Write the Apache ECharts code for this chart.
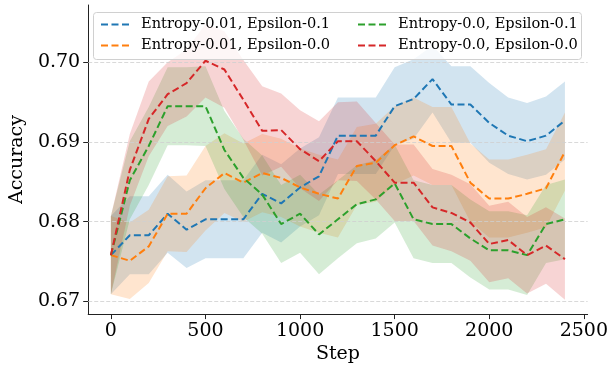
<!DOCTYPE html>
<html>
<head>
<meta charset="utf-8">
<script src="https://cdn.jsdelivr.net/npm/echarts@6/dist/echarts.min.js"></script>
<style>
  html, body { margin: 0; padding: 0; background: #fff; }
  #main { width: 611px; height: 369px; }
</style>
</head>
<body>
<div id="main"></div>
<script>
// steps on the x axis
var steps = [0, 100, 200, 300, 400, 500, 600, 700, 800, 900, 1000, 1100, 1200,
  1300, 1400, 1500, 1600, 1700, 1800, 1900, 2000, 2100, 2200, 2300, 2400];

var names = ['Entropy-0.01, Epsilon-0.1', 'Entropy-0.01, Epsilon-0.0',
  'Entropy-0.0, Epsilon-0.1', 'Entropy-0.0, Epsilon-0.0'];
var colors = ['#1f77b4', '#ff7f0e', '#2ca02c', '#d62728'];

// mean accuracy per run
var blueMean = [0.6758, 0.6783, 0.6783, 0.6810, 0.6790, 0.6803, 0.6803, 0.6803, 0.6835, 0.6823, 0.6843, 0.6857, 0.6908,
  0.6908, 0.6908, 0.6945, 0.6954, 0.6979, 0.6947, 0.6947, 0.6924, 0.6908, 0.6901, 0.6908, 0.6927];
var orangeMean = [0.6758, 0.6751, 0.6769, 0.6810, 0.6810, 0.6842, 0.6861, 0.6849, 0.6861, 0.6855, 0.6843, 0.6835, 0.6829,
  0.6870, 0.6874, 0.6896, 0.6907, 0.6895, 0.6895, 0.6849, 0.6829, 0.6829, 0.6835, 0.6842, 0.6888];
var greenMean = [0.6758, 0.6852, 0.6895, 0.6945, 0.6945, 0.6945, 0.6890, 0.6855, 0.6834, 0.6797, 0.6810, 0.6784, 0.6803,
  0.6822, 0.6828, 0.6848, 0.6803, 0.6797, 0.6797, 0.6779, 0.6764, 0.6764, 0.6758, 0.6797, 0.6803];
var redMean = [0.6758, 0.6865, 0.6929, 0.6960, 0.6974, 0.7002, 0.6991, 0.6953, 0.6914, 0.6915, 0.6891, 0.6876, 0.6901,
  0.6901, 0.6876, 0.6849, 0.6849, 0.6818, 0.6811, 0.6799, 0.6772, 0.6777, 0.6758, 0.6770, 0.6753];

// std (half width of the shaded band)
var blueStd = [0.0049, 0.0049, 0.0049, 0.0049, 0.0048, 0.0049, 0.0049, 0.0049, 0.0049, 0.0049, 0.0049, 0.0049, 0.0048,
  0.0048, 0.0048, 0.0049, 0.0050, 0.0042, 0.0048, 0.0048, 0.0050, 0.0048, 0.0048, 0.0049, 0.0049];
var orangeStd = [0.0049, 0.0048, 0.0046, 0.0047, 0.0048, 0.0053, 0.0050, 0.0049, 0.0049, 0.0049, 0.0049, 0.0049, 0.0049,
  0.0049, 0.0049, 0.0049, 0.0049, 0.0049, 0.0049, 0.0049, 0.0049, 0.0049, 0.0049, 0.0049, 0.0049];
var greenStd = [0.0049, 0.0049, 0.0049, 0.0049, 0.0049, 0.0050, 0.0049, 0.0049, 0.0049, 0.0049, 0.0049, 0.0050, 0.0049,
  0.0049, 0.0049, 0.0049, 0.0049, 0.0049, 0.0049, 0.0049, 0.0049, 0.0049, 0.0050, 0.0049, 0.0050];
var redStd = [0.0049, 0.0045, 0.0047, 0.0040, 0.0042, 0.0046, 0.0048, 0.0050, 0.0056, 0.0046, 0.0049, 0.0050, 0.0049,
  0.0050, 0.0048, 0.0048, 0.0048, 0.0048, 0.0048, 0.0048, 0.0048, 0.0048, 0.0048, 0.0048, 0.0051];

var xTicks = [0, 500, 1000, 1500, 2000, 2500];
var yTicks = [0.67, 0.68, 0.69, 0.70];

var means = [blueMean, orangeMean, greenMean, redMean];
var stds = [blueStd, orangeStd, greenStd, redStd];

var FONT = 'DejaVu Serif';

var myChart = echarts.init(document.getElementById('main'));

var series = [];

// shaded bands (mean +/- std), drawn as one polygon per run
means.forEach(function (m, k) {
  var sd = stds[k];
  var rows = steps.map(function (s, i) { return [s, m[i] - sd[i], m[i] + sd[i]]; });
  series.push({
    name: names[k] + ' band',
    type: 'custom',
    silent: true,
    z: 1,
    encode: { x: 0, y: [1, 2] },
    data: rows,
    renderItem: function (params, api) {
      if (params.dataIndexInside !== 0) return null;
      var top = rows.map(function (r) { return api.coord([r[0], r[2]]); });
      var bottom = rows.map(function (r) { return api.coord([r[0], r[1]]); }).reverse();
      return {
        type: 'polygon',
        shape: { points: top.concat(bottom) },
        style: { fill: colors[k], opacity: 0.2 }
      };
    }
  });
});

// mean lines
means.forEach(function (m, k) {
  var s = {
    name: names[k],
    type: 'line',
    symbol: 'none',
    z: 3,
    lineStyle: { color: colors[k], width: 2, type: [7, 3.5] },
    itemStyle: { color: colors[k] },
    data: steps.map(function (x, i) { return [x, m[i]]; })
  };
  if (k === 0) {
    // horizontal grid lines
    s.markLine = {
      silent: true,
      z: 2,
      symbol: ['none', 'none'],
      label: { show: false },
      lineStyle: { color: '#cfcfcf', width: 0.8, type: [4, 2] },
      data: yTicks.map(function (v) { return { yAxis: v }; })
    };
  }
  series.push(s);
});

// one legend per entry so the two columns and rows sit where matplotlib put them
var legendSpots = [[100, 17], [100, 38], [357, 17], [357, 38]];
var legends = names.map(function (n, k) {
  return {
    left: legendSpots[k][0],
    top: legendSpots[k][1],
    padding: 0,
    z: 110,
    itemWidth: 28,
    itemHeight: 14,
    itemStyle: { opacity: 0 },
    textStyle: { fontFamily: FONT, fontSize: 14.6, color: '#000', padding: [0, 0, 0, 7] },
    data: [n]
  };
});

option = {
  animation: false,
  grid: { left: 84, right: 23, top: 5, bottom: 54 },
  graphic: {
    elements: [{
      type: 'rect',
      z: 100,
      shape: { x: 93.5, y: 12.5, width: 488, height: 47, r: 3 },
      style: { fill: 'rgba(255,255,255,0.8)', stroke: '#d0d0d0', lineWidth: 1 }
    }]
  },
  legend: legends,
  xAxis: {
    type: 'value',
    min: -120,
    max: 2520,
    name: 'Step',
    nameLocation: 'middle',
    nameGap: 30,
    nameTextStyle: { fontFamily: FONT, fontSize: 19, color: '#000' },
    axisLine: { onZero: false, lineStyle: { color: '#222', width: 1 } },
    axisTick: { customValues: xTicks, length: 5, lineStyle: { color: '#222' } },
    axisLabel: {
      customValues: xTicks,
      margin: 7,
      fontFamily: FONT,
      fontSize: 19,
      color: '#000',
      formatter: function (v) { return String(v); }
    },
    splitLine: { show: false }
  },
  yAxis: {
    type: 'value',
    min: 0.6684,
    max: 0.7072,
    name: 'Accuracy',
    nameLocation: 'middle',
    nameGap: 56,
    nameTextStyle: { fontFamily: FONT, fontSize: 19, color: '#000' },
    axisLine: { show: true, onZero: false, lineStyle: { color: '#222', width: 1 } },
    axisTick: { show: true, customValues: yTicks, length: 5, lineStyle: { color: '#222' } },
    axisLabel: {
      customValues: yTicks,
      margin: 8,
      fontFamily: FONT,
      fontSize: 19,
      color: '#000',
      formatter: function (v) { return v.toFixed(2); }
    },
    splitLine: { show: false }
  },
  series: series
};

if (option && typeof option === 'object') {
  myChart.setOption(option, true);
}
</script>
</body>
</html>
